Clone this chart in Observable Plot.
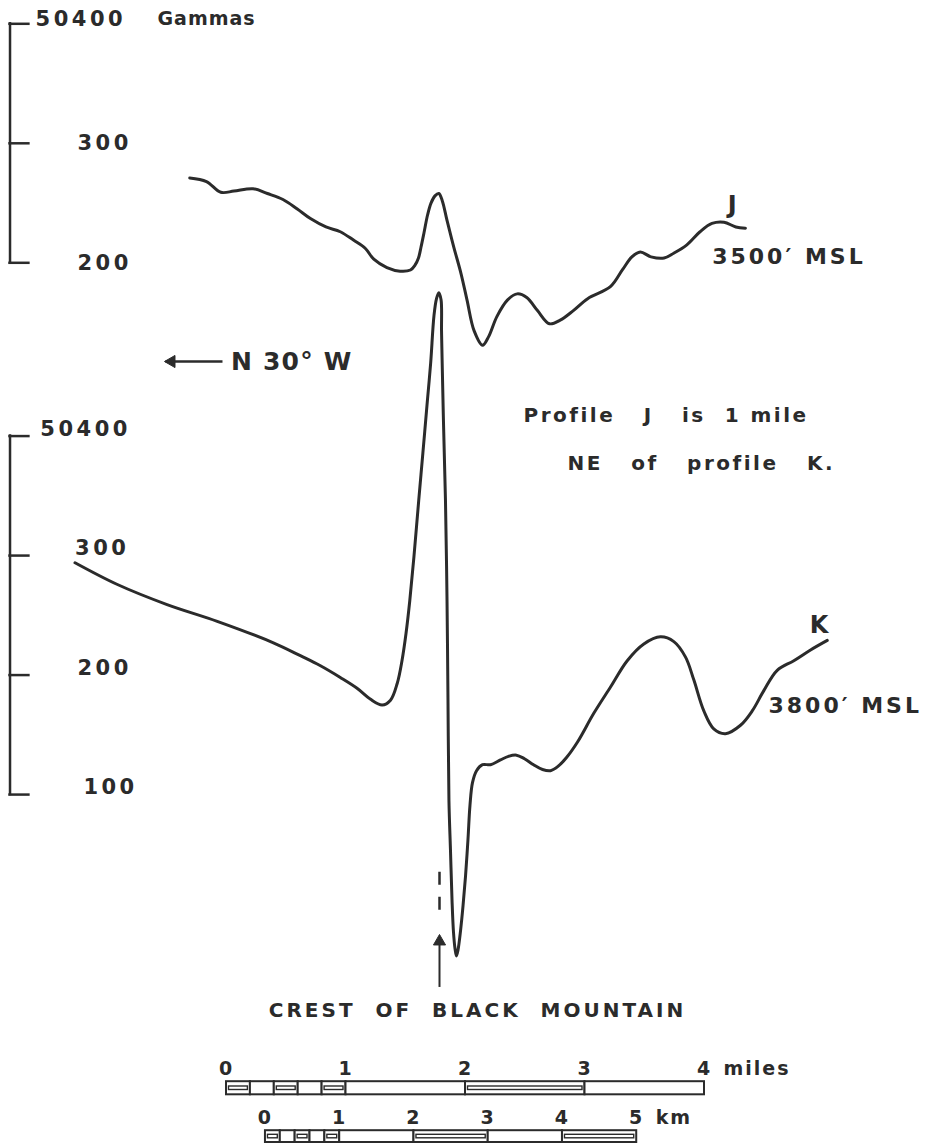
<!DOCTYPE html>
<html>
<head>
<meta charset="utf-8">
<script src="https://cdn.jsdelivr.net/npm/d3@7"></script>
<script src="https://cdn.jsdelivr.net/npm/@observablehq/plot@0.6"></script>
<style>
  html, body { margin: 0; padding: 0; background: #ffffff; }
  #chart svg { display: block; }
  #chart svg text { white-space: pre; letter-spacing: 3px; }
  #chart .digits text { letter-spacing: 3.5px; }
  #chart .tight text { letter-spacing: 1px; }
  #chart .note text { letter-spacing: 2.5px; }
  #chart .dir text { letter-spacing: 1.2px; }
  #chart .scale text { letter-spacing: 2px; }
</style>
</head>
<body>
<div id="chart"></div>
<script>
// ---------------- DATA ----------------
// Distance along each profile, in miles from the crest of Black Mountain (negative = N30°W)
const jMiles = [-2.09,-1.95,-1.83,-1.72,-1.56,-1.44,-1.31,-1.19,-1.08,-0.95,-0.83,-0.72,-0.62,-0.55,-0.44,-0.33,-0.243,-0.205,-0.176,-0.155,-0.130,-0.100,-0.071,-0.038,-0.006,0.023,0.064,0.12,0.18,0.23,0.29,0.36,0.41,0.48,0.57,0.65,0.73,0.82,0.92,1.01,1.12,1.24,1.43,1.53,1.61,1.68,1.77,1.88,1.96,2.07,2.18,2.28,2.38,2.48,2.56];
// Total magnetic intensity, gammas, profile J (3500' MSL)
const jGammas = [50271,50268,50259,50260,50262,50258,50253,50245,50237,50230,50226,50219,50212,50203,50196,50193,50194,50198,50204,50213,50225,50240,50250,50256,50258,50252,50235,50213,50191,50169,50143,50131,50138,50155,50169,50174,50171,50160,50149,50152,50160,50170,50180,50194,50205,50209,50205,50204,50208,50215,50226,50233,50234,50230,50229];
const kMiles = [-3.05,-2.70,-2.28,-1.86,-1.39,-1.16,-1.00,-0.83,-0.69,-0.58,-0.48,-0.41,-0.354,-0.314,-0.280,-0.249,-0.214,-0.174,-0.139,-0.101,-0.074,-0.046,-0.025,-0.006,0.013,0.017,0.022,0.033,0.050,0.063,0.071,0.079,0.092,0.105,0.117,0.130,0.142,0.155,0.176,0.197,0.218,0.238,0.255,0.276,0.310,0.360,0.427,0.510,0.577,0.644,0.711,0.787,0.862,0.929,0.996,1.063,1.155,1.291,1.431,1.571,1.710,1.849,1.961,2.059,2.128,2.212,2.295,2.393,2.519,2.617,2.714,2.826,2.965,3.105,3.245];
// Total magnetic intensity, gammas, profile K (3800' MSL)
const kGammas = [50294,50276,50259,50245,50227,50216,50208,50198,50189,50180,50175,50179,50193,50212,50235,50262,50299,50346,50386,50430,50461,50501,50515,50520,50514,50488,50463,50413,50346,50262,50179,50095,50053,50011,49985,49971,49965,49970,49986,50007,50032,50062,50091,50110,50120,50125,50125,50129,50132,50133,50130,50125,50121,50120,50124,50131,50144,50168,50190,50212,50226,50232,50228,50215,50196,50170,50155,50151,50158,50170,50187,50204,50212,50221,50229];

const profiles = ["J", "K"];
const profileAltitudes = ["3500′ MSL", "3800′ MSL"];
const gammaTicksJ = [50400, 50300, 50200];
const tickLabelsJ = ["50400", "300", "200"];
const gammaTicksK = [50400, 50300, 50200, 50100];
const tickLabelsK = ["50400", "300", "200", "100"];
const unitLabel = "Gammas";
const direction = "N 30° W";
const noteLines = ["Profile   J   is  1 mile", "NE   of   profile   K."];
const crestLabel = "CREST  OF  BLACK  MOUNTAIN";
const mileTicks = [0, 1, 2, 3, 4];
const kmTicks = [0, 1, 2, 3, 4, 5];
const mileUnit = "miles";
const kmUnit = "km";
const milesPerKm = 0.621371;

// ---------------- LAYOUT ----------------
const W = 935, H1 = 1050, H2 = 95;
const pxPerMile = 119.5, pxPerGamma = 1.195;
const crestPx = 439;          // page x of the crest
const topGamma = 50419.5;     // J-gamma at the top edge of the drawing
const profileOffset = {J: 0, K: 345}; // K drawn 345 gammas lower than J
const ink = "#2b2b2b";
const font = "'DejaVu Sans', 'Liberation Sans', sans-serif";

const bracketX = -3.594, tickEndX = -3.436;
const tickLabelXJ = [-3.38, -3.03, -3.03];
const tickLabelXK = [-3.34, -3.05, -3.03, -2.98];
const unitLabelX = -2.36;
const nameX = [2.463, 3.188], nameGamma = [50248, 50241.5];
const altX = [2.282, 2.753], altGamma = [50204.7, 50174.5];
const dirArrow = [{x1: -1.816, x2: -2.293, y: 50117.4}];
const dirTextX = -1.745;
const noteX = [0.703, 1.071], noteY = [50072.2, 50032];
const crestDash = {y1: 49690, y2: 49658};
const crestArrow = {y1: 49593.6, y2: 49637.1};
const crestTextX = 0.318, crestTextY = 49574.3;

// ---------------- TABLES ----------------
const rows = [
  ...jMiles.map((m, i) => ({profile: "J", mile: m, gamma: jGammas[i]})),
  ...kMiles.map((m, i) => ({profile: "K", mile: m, gamma: kGammas[i]}))
];
const yOf = d => d.gamma - profileOffset[d.profile];
const tickRows = [
  ...gammaTicksJ.map((g, i) => ({profile: "J", gamma: g, label: tickLabelsJ[i], lx: tickLabelXJ[i]})),
  ...gammaTicksK.map((g, i) => ({profile: "K", gamma: g, label: tickLabelsK[i], lx: tickLabelXK[i]}))
];
const brackets = [
  {profile: "J", top: d3.max(gammaTicksJ), bottom: d3.min(gammaTicksJ)},
  {profile: "K", top: d3.max(gammaTicksK), bottom: d3.min(gammaTicksK)}
];
const labelRows = profiles.map((p, i) => ({
  profile: p, name: p, alt: profileAltitudes[i],
  nx: nameX[i], ng: nameGamma[i], ax: altX[i], ag: altGamma[i]
}));
const notes = noteLines.map((t, i) => ({text: t, x: noteX[i], y: noteY[i]}));

const txt = {fill: ink, fontWeight: "bold"};

const plot1 = Plot.plot({
  width: W, height: H1, margin: 0,
  x: {domain: [-crestPx / pxPerMile, (W - crestPx) / pxPerMile], axis: null},
  y: {domain: [topGamma - H1 / pxPerGamma, topGamma], axis: null},
  style: {background: "#ffffff", fontFamily: font, color: ink, overflow: "visible"},
  marks: [
    Plot.line(rows, {x: "mile", y: yOf, z: "profile", curve: "catmull-rom",
      stroke: ink, strokeWidth: 3, strokeLinejoin: "round", strokeLinecap: "round"}),
    Plot.ruleX(brackets, {x: bracketX, y1: d => d.top - profileOffset[d.profile],
      y2: d => d.bottom - profileOffset[d.profile], stroke: ink, strokeWidth: 2.5, strokeLinecap: "square"}),
    Plot.ruleY(tickRows, {y: yOf, x1: bracketX, x2: tickEndX, stroke: ink, strokeWidth: 2.5, strokeLinecap: "square"}),
    Plot.text(tickRows.filter(d => d.profile === "J" && d.gamma === 50400),
      {x: "lx", y: yOf, text: "label", textAnchor: "start", dy: -5, fontSize: 21, className: "digits", ...txt}),
    Plot.text(tickRows.filter(d => d.profile === "J" && d.gamma !== 50400),
      {x: "lx", y: yOf, text: "label", textAnchor: "start", fontSize: 21, className: "digits", ...txt}),
    Plot.text(tickRows.filter(d => d.profile === "K"),
      {x: "lx", y: yOf, text: "label", textAnchor: "start", dy: -7, fontSize: 21, className: "digits", ...txt}),
    Plot.text([unitLabel], {x: unitLabelX, y: gammaTicksJ[0], text: d => d, textAnchor: "start",
      dy: -5, fontSize: 19, className: "tight", ...txt}),
    Plot.text(labelRows, {x: "nx", y: d => d.ng - profileOffset[d.profile], text: "name", fontSize: 24, ...txt}),
    Plot.text(labelRows, {x: "ax", y: d => d.ag - profileOffset[d.profile], text: "alt",
      textAnchor: "start", fontSize: 22, className: "alt", ...txt}),
    // direction arrow: shaft + filled head
    Plot.link(dirArrow, {x1: "x1", y1: "y", x2: "x2", y2: "y", stroke: ink, strokeWidth: 2.5}),
    Plot.dot(dirArrow, {x: "x2", y: "y", symbol: "triangle", r: 4.5, rotate: -90, dx: 6,
      fill: ink, stroke: ink, strokeWidth: 1}),
    Plot.text([direction], {x: dirTextX, y: dirArrow[0].y, text: d => d, textAnchor: "start",
      fontSize: 25, className: "dir", ...txt}),
    Plot.text(notes, {x: "x", y: "y", text: "text", textAnchor: "start", fontSize: 20, className: "note", ...txt}),
    // crest marker: dashed line, arrow, label
    Plot.ruleX([0], {y1: crestDash.y1, y2: crestDash.y2, stroke: ink, strokeWidth: 2.5, strokeDasharray: "13,12"}),
    Plot.ruleX([0], {y1: crestArrow.y1, y2: crestArrow.y2 - 4, stroke: ink, strokeWidth: 2}),
    Plot.dot([0], {x: d => d, y: crestArrow.y2, symbol: "triangle", r: 4.5, dy: 6,
      fill: ink, stroke: ink, strokeWidth: 1}),
    Plot.text([crestLabel], {x: crestTextX, y: crestTextY, text: d => d, fontSize: 20, className: "crest", ...txt})
  ]
});

// ---------------- SCALE BARS ----------------
const scaleOriginPx = 226;          // page x of the 0 of the miles bar
const kmOriginMi = 0.326;           // km bar starts this far right of the miles bar
const mileEdges = [0, 0.2, 0.4, 0.6, 0.8, 1, 2, 3, 4];
const mileHatch = [1, 0, 1, 0, 1, 0, 1, 0];
const kmEdges = [0, 0.2, 0.4, 0.6, 0.8, 1, 2, 3, 4, 5];
const kmHatch = [1, 0, 1, 0, 1, 0, 1, 0, 1];
const mileSegs = mileEdges.slice(0, -1).map((e, i) => ({a: e, b: mileEdges[i + 1], h: mileHatch[i]}));
const kmSegs = kmEdges.slice(0, -1).map((e, i) => ({
  a: kmOriginMi + e * milesPerKm, b: kmOriginMi + kmEdges[i + 1] * milesPerKm, h: kmHatch[i]}));

const plot2 = Plot.plot({
  width: W, height: H2, margin: 0,
  x: {domain: [-scaleOriginPx / pxPerMile, (W - scaleOriginPx) / pxPerMile], axis: null},
  y: {type: "band", domain: ["miles", "km"], padding: 0, axis: null},
  style: {background: "#ffffff", fontFamily: font, color: ink, overflow: "visible"},
  marks: [
    Plot.barX(mileSegs, {x1: "a", x2: "b", y: () => "miles", fill: "#ffffff", stroke: ink,
      strokeWidth: 2, insetTop: 30.2, insetBottom: 3.7}),
    Plot.barX(mileSegs.filter(d => d.h), {x1: "a", x2: "b", y: () => "miles", fill: "none", stroke: ink,
      strokeWidth: 1.4, insetTop: 35, insetBottom: 8.5, insetLeft: 2.5, insetRight: 2.5}),
    Plot.barX(kmSegs, {x1: "a", x2: "b", y: () => "km", fill: "#ffffff", stroke: ink,
      strokeWidth: 2, insetTop: 32.2, insetBottom: 3}),
    Plot.barX(kmSegs.filter(d => d.h), {x1: "a", x2: "b", y: () => "km", fill: "none", stroke: ink,
      strokeWidth: 1.4, insetTop: 36.3, insetBottom: 7.2, insetLeft: 2.5, insetRight: 2.5}),
    Plot.text(mileTicks, {x: d => d, y: () => "miles", text: d => String(d), dy: -5.75, fontSize: 19, className: "scale", ...txt}),
    Plot.text([mileUnit], {x: () => d3.max(mileTicks), y: () => "miles", text: d => d, dx: 19, dy: -5.75,
      textAnchor: "start", fontSize: 19, className: "scale", ...txt}),
    Plot.text(kmTicks, {x: d => kmOriginMi + d * milesPerKm, y: () => "km", text: d => String(d), dy: -4.5,
      fontSize: 19, className: "scale", ...txt}),
    Plot.text([kmUnit], {x: () => kmOriginMi + d3.max(kmTicks) * milesPerKm, y: () => "km", text: d => d,
      dx: 19, dy: -4.5, textAnchor: "start", fontSize: 19, className: "scale", ...txt})
  ]
});

document.getElementById("chart").append(plot1, plot2);
</script>
</body>
</html>
